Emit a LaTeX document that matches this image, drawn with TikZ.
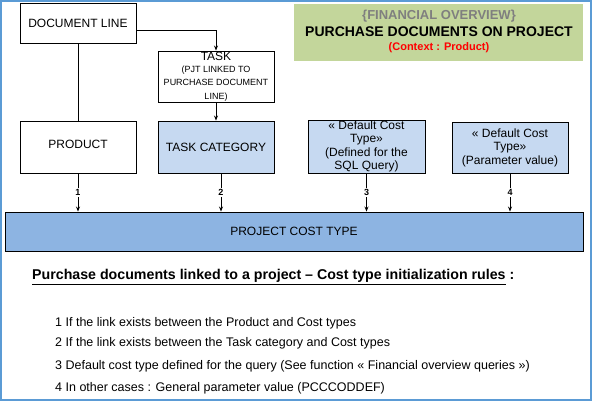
\documentclass[tikz,border=0pt]{standalone}
\usepackage{fontspec}
\setmainfont{Liberation Sans}
\usetikzlibrary{arrows.meta}
\definecolor{framec}{HTML}{5B9BD5}
\definecolor{lightb}{HTML}{C6D9F1}
\definecolor{midb}{HTML}{8DB4E2}
\definecolor{titleg}{HTML}{C3D69B}
\definecolor{grayt}{HTML}{7F7F7F}
\definecolor{redt}{HTML}{FF0000}
\tikzset{
  box/.style={draw=black, line width=0.9pt, inner sep=0pt, align=center, font=\fontsize{12}{13.5}\selectfont},
  bluebox/.style={box, fill=lightb},
  arr/.style={draw=black, line width=0.8pt, -{Stealth[length=5pt,width=4pt]}},
  plain/.style={draw=black, line width=0.8pt},
  lbl/.style={fill=white, inner sep=1pt, font=\fontsize{9}{10}\selectfont\bfseries},
  itemtxt/.style={anchor=west, inner sep=0pt, font=\fontsize{12.5}{14}\selectfont}
}
\begin{document}
\begin{tikzpicture}[x=1pt,y=-1pt]
\useasboundingbox (0,0) rectangle (592,401);
\draw[framec, line width=2pt] (1,1) rectangle (591,400);

\node[box, minimum width=116pt, minimum height=40pt] (doc) at (78,23) {DOCUMENT LINE};
\node[box, minimum width=116pt, minimum height=51pt] (task) at (216,76.5)
  {TASK\\[-2pt]\fontsize{9}{11.5}\selectfont (PJT LINKED TO\\\fontsize{9}{11.5}\selectfont PURCHASE DOCUMENT\\\fontsize{9}{11.5}\selectfont LINE)};
\node[box, minimum width=116pt, minimum height=52pt] (product) at (78,147) {\raisebox{6pt}{PRODUCT}};
\node[bluebox, minimum width=116pt, minimum height=52pt] (taskcat) at (216,147) {TASK CATEGORY};
\node[bluebox, minimum width=117pt, minimum height=53pt] (sql) at (366.5,146.5)
  {« Default Cost\\Type»\\(Defined for the\\SQL Query)};
\node[bluebox, minimum width=116pt, minimum height=51pt] (param) at (510,147.5)
  {« Default Cost\\Type»\\(Parameter value)};
\node[box, fill=midb, minimum width=578pt, minimum height=39pt] (pct) at (294,231.5) {PROJECT COST TYPE};

\node[fill=titleg, minimum width=289pt, minimum height=57pt, inner sep=0pt] (title) at (438.5,32.5) {};
\node[font=\fontsize{13}{14}\selectfont\bfseries, text=grayt, inner sep=0pt] (t1) at (439,16) {\{FINANCIAL OVERVIEW\}};
\node[font=\fontsize{14}{15}\selectfont\bfseries, inner sep=0pt] (t2) at (439,32) {PURCHASE DOCUMENTS ON PROJECT};
\node[font=\fontsize{11}{12}\selectfont\bfseries, text=redt, inner sep=0pt] (t3) at (439,48) {(Context : Product)};

\draw[arr] ([yshift=-7pt]doc.east) -| (task.north);
\draw[plain] (doc.south) -- (product.north);
\draw[arr] (task.south) -- (taskcat.north);

\draw[arr] (product.south) -- (product.south |- pct.north) node[midway, lbl] (l1) {1};
\draw[arr] ([xshift=5pt]taskcat.south) -- ([xshift=5pt]taskcat.south |- pct.north) node[midway, lbl] (l2) {2};
\draw[arr] (sql.south) -- (sql.south |- pct.north) node[midway, lbl] (l3) {3};
\draw[arr] (param.south) -- (param.south |- pct.north) node[midway, lbl] (l4) {4};

\node[anchor=west, inner sep=0pt, font=\fontsize{14.2}{15}\selectfont\bfseries] (head) at (32,277)
  {\underline{Purchase documents linked to a project – Cost type initialization rules} :};
\node[itemtxt] (i1) at (55,323) {1 If the link exists between the Product and Cost types};
\node[itemtxt] (i2) at (55,343) {2 If the link exists between the Task category and Cost types};
\node[itemtxt] (i3) at (55,366) {3 Default cost type defined for the query (See function « Financial overview queries »)};
\node[itemtxt] (i4) at (55,388) {4 In other cases : General parameter value (PCCCODDEF)};
\end{tikzpicture}
\end{document}
